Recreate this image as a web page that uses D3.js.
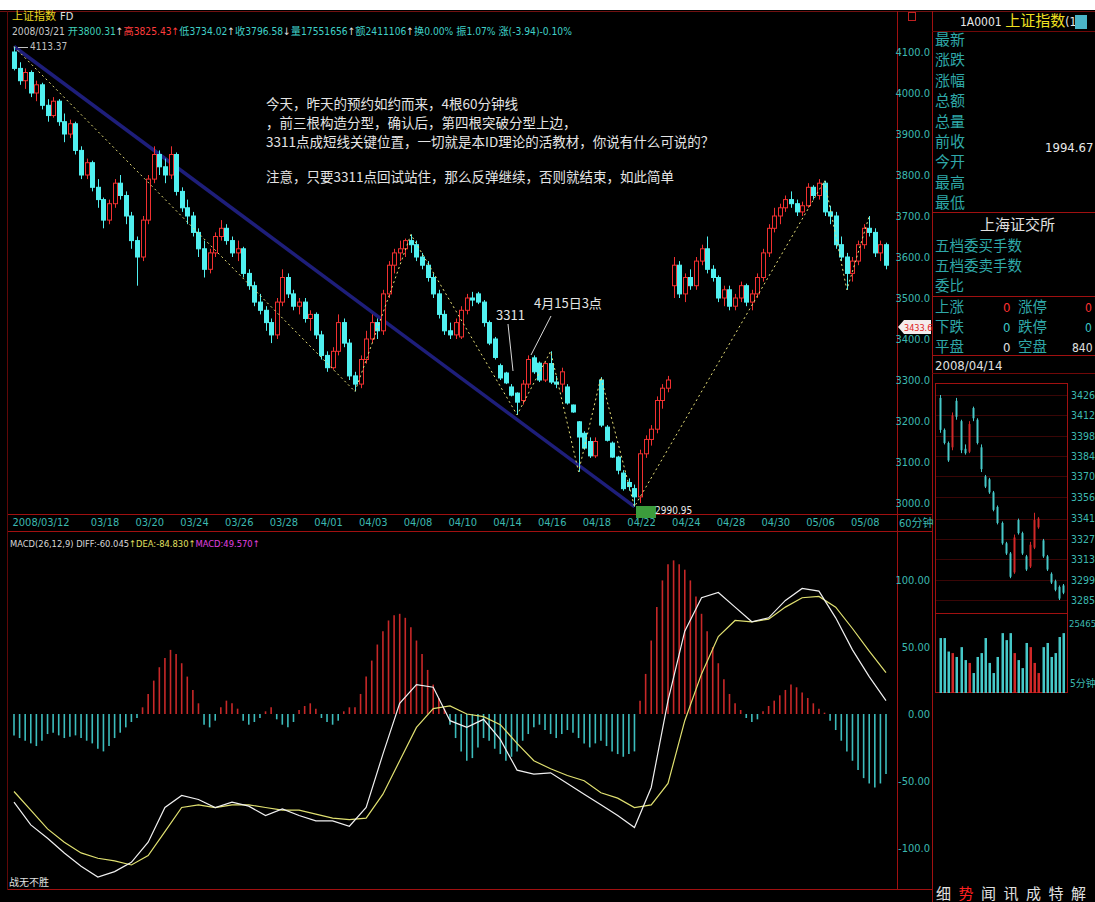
<!DOCTYPE html>
<html><head><meta charset="utf-8">
<script src="https://cdn.jsdelivr.net/npm/d3@7"></script>
<style>
html,body{margin:0;padding:0;background:#fff;}
svg{display:block;}
text{font-family:"Liberation Sans Narrow","DejaVu Sans Condensed","Noto Sans CJK SC",sans-serif;}
.cjk{font-family:"Noto Sans CJK SC","Noto Sans CJK JP",sans-serif;}
</style></head><body>
<svg id="c" width="1095" height="902"></svg>
<script>
// ---------------- DATA ----------------
const opens  = [4100,4060,4030,4050,4000,4020,3970,3945,3980,3930,3900,3925,3860,3800,3830,3770,3740,3690,3730,3780,3750,3700,3640,3600,3690,3790,3850,3820,3800,3850,3760,3720,3700,3660,3620,3570,3610,3650,3670,3640,3610,3620,3560,3530,3490,3470,3440,3410,3490,3550,3510,3480,3490,3450,3460,3410,3360,3330,3370,3440,3390,3310,3290,3350,3400,3440,3420,3510,3580,3610,3620,3640,3630,3600,3580,3550,3510,3460,3420,3410,3405,3470,3500,3510,3490,3440,3400,3335,3317,3283,3268,3250,3290,3354,3341,3300,3340,3295,3290,3283,3239,3198,3170,3150,3115,3300,3185,3146,3112,3073,3050,3035,3015,3120,3155,3180,3250,3280,3530,3580,3510,3550,3530,3590,3620,3570,3550,3500,3520,3480,3500,3530,3490,3510,3550,3610,3670,3700,3720,3740,3730,3710,3725,3770,3750,3780,3710,3700,3630,3600,3560,3590,3630,3670,3660,3610,3630];
const highs  = [4113,4075,4060,4055,4030,4025,3985,3990,3985,3950,3935,3930,3870,3840,3835,3790,3745,3740,3790,3800,3760,3710,3650,3700,3800,3870,3860,3840,3870,3855,3770,3740,3710,3670,3640,3620,3660,3690,3680,3650,3640,3625,3570,3540,3510,3480,3450,3500,3570,3560,3520,3500,3500,3470,3465,3420,3370,3380,3460,3450,3400,3320,3360,3420,3460,3450,3520,3590,3620,3640,3645,3655,3640,3610,3590,3560,3520,3470,3440,3450,3480,3510,3515,3515,3495,3445,3405,3340,3320,3290,3270,3300,3360,3360,3345,3345,3370,3310,3330,3290,3240,3200,3175,3160,3160,3307,3190,3150,3115,3080,3060,3045,3130,3165,3190,3260,3290,3310,3600,3590,3560,3570,3600,3630,3650,3580,3555,3530,3530,3510,3540,3535,3520,3560,3620,3680,3720,3730,3750,3760,3740,3735,3780,3775,3790,3786,3725,3710,3650,3610,3600,3640,3680,3700,3670,3640,3635];
const lows   = [4055,4020,4010,3990,3980,3960,3930,3940,3920,3880,3890,3850,3790,3790,3760,3720,3670,3680,3720,3740,3680,3620,3530,3590,3680,3780,3800,3780,3790,3750,3710,3680,3650,3600,3550,3560,3600,3640,3630,3600,3590,3550,3520,3480,3460,3420,3390,3400,3480,3500,3470,3460,3440,3420,3400,3350,3320,3325,3360,3380,3300,3272,3280,3340,3390,3400,3410,3500,3560,3590,3600,3610,3590,3570,3540,3500,3450,3410,3400,3400,3400,3460,3480,3485,3430,3385,3350,3300,3290,3260,3215,3240,3280,3315,3295,3295,3290,3280,3270,3240,3220,3076,3130,3110,3110,3185,3150,3110,3070,3030,3030,2991,3000,3110,3140,3170,3230,3270,3500,3500,3490,3520,3520,3580,3560,3540,3490,3480,3470,3470,3490,3480,3470,3500,3540,3600,3660,3680,3710,3720,3700,3700,3720,3740,3740,3700,3680,3620,3590,3520,3540,3580,3620,3650,3600,3590,3570];
const closes = [4060,4030,4050,4000,4020,3970,3945,3980,3930,3900,3925,3860,3800,3830,3770,3740,3690,3730,3780,3750,3700,3640,3600,3690,3790,3850,3820,3800,3850,3760,3720,3700,3660,3620,3570,3610,3650,3670,3640,3610,3620,3560,3530,3490,3470,3440,3410,3490,3550,3510,3480,3490,3450,3460,3410,3360,3330,3370,3440,3390,3310,3290,3350,3400,3440,3420,3510,3580,3610,3620,3640,3630,3600,3580,3550,3510,3460,3420,3410,3440,3470,3500,3495,3490,3440,3390,3355,3305,3293,3263,3246,3290,3350,3320,3300,3340,3295,3290,3320,3244,3222,3161,3134,3115,3150,3190,3153,3112,3080,3035,3040,3015,3120,3155,3180,3250,3280,3300,3580,3510,3550,3530,3590,3620,3570,3550,3500,3520,3480,3500,3530,3490,3510,3550,3610,3670,3700,3720,3740,3730,3710,3725,3770,3750,3780,3710,3700,3630,3600,3560,3590,3630,3670,3660,3610,3630,3580];

const dateIdx    = [0,14,22,30,38,46,54,62,70,78,86,94,102,110,118,126,134,142,150];
const dateLabels = ["2008/03/12","03/18","03/20","03/24","03/26","03/28","04/01","04/03","04/08","04/10","04/14","04/16","04/18","04/22","04/24","04/28","04/30","05/06","05/08"];
const priceTicks = [4100,4000,3900,3800,3700,3600,3500,3400,3300,3200,3100,3000];
const macdTicks  = [100,50,0,-50,-100];
const macdTickLabels = ["100.00","50.00","0.00","-50.00","-100.0"];

const zigIdx   = [0,61,71,90,96,101,105,111,145,149,153];
const zigPrice = [4113,3272,3655,3215,3370,3076,3307,2991,3786,3520,3700];
const trendIdx   = [0,111];
const trendPrice = [4113.37,2990.95];

const macdIdx = [0,3,6,9,12,15,18,21,24,27,30,33,36,39,42,45,48,51,54,57,60,63,66,69,72,75,78,81,84,87,90,93,96,99,102,105,108,111,114,117,120,123,126,129,132,135,138,141,144,147,150,153,156];
const diffVals = [-66,-83,-93,-104,-114,-122,-118,-111,-96,-70,-61,-64,-70,-66,-69,-76,-71,-76,-80,-80,-84,-70,-30,8,22,20,-5,-10,-4,-19,-42,-45,-44,-52,-60,-68,-76,-85,-55,10,62,87,91,80,69,72,85,94,92,72,48,28,10];
const deaVals  = [-58,-72,-86,-96,-104,-108,-110,-113,-106,-88,-70,-68,-70,-68,-68,-70,-72,-72,-75,-78,-79,-78,-60,-35,-10,4,6,0,-2,-8,-22,-35,-41,-46,-50,-59,-63,-70,-68,-52,-5,30,58,70,69,71,80,87,88,80,64,47,31];
const macdHist = [-16,-18,-20,-22,-24,-20,-15,-14,-16,-18,-17,-16,-18,-20,-22,-26,-28,-24,-18,-14,-10,-6,-3,
  5,15,25,35,42,48,45,38,28,18,8,
  -8,-10,-5,
  5,10,8,4,
  -5,-8,-6,-3,2,5,-4,-8,-10,-6,3,6,8,4,-3,-6,-8,-5,2,5,
  5,15,28,40,52,62,70,74,75,72,65,55,45,33,22,12,4,
  -8,-18,-28,-35,-33,-25,-18,-20,-26,-30,-35,-32,-28,
  -20,-15,-10,-8,-12,-15,-18,-15,-12,-14,-18,-22,-25,-22,-20,-24,-28,-30,-32,-30,-28,
  10,30,55,80,100,112,115,112,108,100,88,75,62,50,38,26,15,8,3,
  -3,-6,-4,2,6,10,14,
  18,22,20,16,12,8,4,1,
  -5,-12,-20,-28,-35,-42,-48,-52,-55,-52,-45];

const miniOpen  = [3424,3402,3393,3390,3422,3408,3389,3387,3417,3409,3390,3370,3368,3359,3349,3338,3324,3317,3304,3340,3331,3315,3308,3321,3335,3326,3315,3303,3298,3294,3295];
const miniHigh  = [3426,3403,3394,3414,3424,3409,3392,3408,3418,3410,3392,3371,3369,3360,3350,3339,3325,3318,3330,3341,3332,3316,3325,3345,3342,3327,3316,3304,3299,3295,3296];
const miniLow   = [3400,3392,3380,3388,3409,3386,3385,3386,3408,3392,3373,3362,3358,3346,3337,3323,3316,3300,3303,3330,3316,3305,3307,3320,3334,3314,3305,3296,3291,3285,3289];
const miniClose = [3402,3393,3381,3412,3411,3388,3386,3406,3410,3393,3375,3363,3359,3347,3338,3324,3317,3301,3328,3331,3317,3306,3323,3340,3341,3315,3306,3297,3292,3286,3290];
const miniVol   = [21200,21200,16000,15400,13900,17700,12700,11600,7700,13900,15400,21200,11600,7700,13900,23100,20400,23100,15400,12700,9600,19300,17700,11600,7700,17700,19300,13900,15400,21600,23100];
const miniTicks = [3426,3412,3398,3384,3370,3356,3341,3327,3313,3299,3285];

const headerParts = [["2008/03/21 ","#c8c8c8"],["开3800.31","#3fd0b8"],["↑","#e0e0e0"],["高3825.43","#ff3c3c"],["↑","#ff3c3c"],["低3734.02","#3fd0c8"],["↑","#e0e0e0"],["收3796.58","#3fd0c8"],["↓","#e0e0e0"],["量17551656","#3fd0c8"],["↑","#e0e0e0"],["额2411106","#3fd0c8"],["↑","#e0e0e0"],["换0.00% ","#3fd0c8"],["振1.07% ","#3fd0c8"],["涨(-3.94)-0.10%","#3fd0c8"]];
const macdHeader = [["MACD(26,12,9) DIFF:-60.045","#d8d8d8"],["↑","#e0e060"],["DEA:-84.830","#e0e060"],["↑","#e0e060"],["MACD:49.570","#e040e0"],["↑","#e040e0"]];
const noteLines = ["今天，昨天的预约如约而来，4根60分钟线","，前三根构造分型，确认后，第四根突破分型上边，","3311点成短线关键位置，一切就是本ID理论的活教材，你说有什么可说的？","注意，只要3311点回试站住，那么反弹继续，否则就结束，如此简单"];
const quoteLabels = ["最新","涨跌","涨幅","总额","总量","前收","今开","最高","最低"];
const tabs = ["细","势","闻","讯","成","特","解"];

// ---------------- DRAW ----------------
const svg = d3.select("#c");
const RED = "#a01010";
svg.append("rect").attr("x",0).attr("y",10).attr("width",1095).attr("height",892).attr("fill","#000");

const x  = d3.scaleLinear().domain([0,156]).range([14,886]);
const y  = d3.scaleLinear().domain([3000,4100]).range([503,52]);
const ym = d3.scaleLinear().domain([-100,100]).range([847.6,580.4]);

function hline(x1,x2,yy,c){svg.append("line").attr("x1",x1).attr("x2",x2).attr("y1",yy).attr("y2",yy).attr("stroke",c||RED).attr("stroke-width",1);}
function vline(xx,y1,y2,c){svg.append("line").attr("x1",xx).attr("x2",xx).attr("y1",y1).attr("y2",y2).attr("stroke",c||RED).attr("stroke-width",1);}

// frame
hline(0,1095,11.5,"#701010");
vline(7.5,11,890,"#600808");
vline(897.5,11,890);
vline(932.5,11,902);
hline(8,932,514.5);
hline(8,932,531.5);
hline(8,932,889.5);
hline(932,1095,31.5,"#700808");
hline(932,1095,212.5);
hline(932,1095,296.5);
hline(932,1095,355.5);
hline(932,1095,373.5,"#700808");
svg.append("rect").attr("x",908.5).attr("y",12.5).attr("width",7).attr("height",8).attr("fill","none").attr("stroke","#c02020");

// trend line (blue)
const ln = d3.line().x(d=>x(d[0])).y(d=>y(d[1]));
svg.append("path").attr("d",ln(d3.zip(trendIdx,trendPrice))).attr("stroke","#1e1e7a").attr("stroke-width",3.5).attr("fill","none");

// candles
const cg = svg.append("g");
d3.range(closes.length).forEach(i=>{
  const up = closes[i] >= opens[i];
  const col = up ? "#f03030" : "#50f0f0";
  const cx = Math.round(x(i))+0.5;
  cg.append("line").attr("x1",cx).attr("x2",cx).attr("y1",y(highs[i])).attr("y2",y(lows[i])).attr("stroke",col);
  const t = y(Math.max(opens[i],closes[i])), b = y(Math.min(opens[i],closes[i]));
  cg.append("rect").attr("x",cx-2).attr("y",t).attr("width",4).attr("height",Math.max(1,b-t))
    .attr("fill",up?"#000":col).attr("stroke",col).attr("stroke-width",1);
});

// zigzag dashed
svg.append("path").attr("d",ln(d3.zip(zigIdx,zigPrice))).attr("stroke","#e8e07a").attr("stroke-width",1).attr("stroke-dasharray","2,3").attr("fill","none");

// price axis
const pa = svg.append("g").attr("transform","translate(930,0)")
  .call(d3.axisLeft(y).tickValues(priceTicks).tickFormat(d=>d.toFixed(1)).tickSize(0).tickPadding(0));
pa.select(".domain").remove();
pa.selectAll("text").attr("fill","#3cb8b0").attr("font-size",11);

// current price tag
svg.append("path").attr("d","M898,327 L904,320 L931,320 L931,334 L904,334 Z").attr("fill","#f4ecec");
svg.append("text").attr("x",904).attr("y",331).attr("fill","#e02020").attr("font-size",9).text("3433.6");

// date axis
const da = svg.append("g").attr("transform","translate(-2,518)")
  .call(d3.axisBottom(x).tickValues(dateIdx).tickFormat((d,i)=>dateLabels[i]).tickSize(0).tickPadding(0));
da.select(".domain").remove();
da.selectAll("text").attr("text-anchor","start").attr("fill","#3cb8b0").attr("font-size",11);
svg.append("text").attr("x",899).attr("y",527).attr("fill","#3cb8b0").attr("font-size",11).text("60分钟");

// title + header
const tt = svg.append("text").attr("x",12).attr("y",20).attr("font-size",11);
tt.append("tspan").attr("fill","#e8d820").text("上证指数");
tt.append("tspan").attr("fill","#e0e0e0").attr("dx",4).text("FD");
const ht = svg.append("text").attr("x",12).attr("y",35).attr("font-size",10.2);
headerParts.forEach(p=>ht.append("tspan").attr("fill",p[1]).text(p[0]));
svg.append("line").attr("x1",18).attr("x2",28).attr("y1",47.5).attr("y2",47.5).attr("stroke","#c0c0c0");
svg.append("text").attr("x",30).attr("y",50).attr("fill","#c0c0c0").attr("font-size",10).text("4113.37");

// notes
noteLines.forEach((s,i)=>{
  svg.append("text").attr("class","cjk").attr("x",266).attr("y",[109,128,147,182][i]).attr("fill","#e4e4e4").attr("font-size",13.5).text(s);
});
svg.append("text").attr("class","cjk").attr("x",496).attr("y",320).attr("fill","#e4e4e4").attr("font-size",13).text("3311");
svg.append("line").attr("x1",508).attr("y1",324).attr("x2",513).attr("y2",371).attr("stroke","#d8d8d8");
svg.append("text").attr("class","cjk").attr("x",534).attr("y",308).attr("fill","#e4e4e4").attr("font-size",13).text("4月15日3点");
svg.append("line").attr("x1",551).attr("y1",316).attr("x2",531).attr("y2",355).attr("stroke","#d8d8d8");

// low label
svg.append("rect").attr("x",636).attr("y",506).attr("width",20).attr("height",12).attr("fill","#3c9c3c");
svg.append("text").attr("x",655).attr("y",514).attr("fill","#e8e8e8").attr("font-size",10).text("2990.95");

// MACD
const mh = svg.append("g");
d3.range(macdHist.length).forEach(i=>{
  const v = macdHist[i];
  mh.append("line").attr("x1",x(i)).attr("x2",x(i)).attr("y1",ym(0)).attr("y2",ym(v))
    .attr("stroke",v>=0?"#c82828":"#3cbcbc").attr("stroke-width",1.6);
});
const lm = d3.line().x(d=>x(d[0])).y(d=>ym(d[1]));
svg.append("path").attr("d",lm(d3.zip(macdIdx,deaVals))).attr("stroke","#e0e070").attr("stroke-width",1.2).attr("fill","none");
svg.append("path").attr("d",lm(d3.zip(macdIdx,diffVals))).attr("stroke","#f0f0f0").attr("stroke-width",1.2).attr("fill","none");
const ma = svg.append("g").attr("transform","translate(930,0)")
  .call(d3.axisLeft(ym).tickValues(macdTicks).tickFormat((d,i)=>macdTickLabels[i]).tickSize(0).tickPadding(0));
ma.select(".domain").remove();
ma.selectAll("text").attr("fill","#3cb8b0").attr("font-size",11);
const mt = svg.append("text").attr("x",10).attr("y",547).attr("font-size",9.3);
macdHeader.forEach(p=>mt.append("tspan").attr("fill",p[1]).text(p[0]));
svg.append("text").attr("class","cjk").attr("x",9).attr("y",886).attr("fill","#e0e0e0").attr("font-size",10).text("战无不胜");

// ---------- right panel ----------
const rt = svg.append("text").attr("x",960).attr("y",26);
rt.append("tspan").attr("fill","#e8e8e8").attr("font-size",12).text("1A0001 ");
rt.append("tspan").attr("class","cjk").attr("fill","#f0e020").attr("font-size",15).text("上证指数");
rt.append("tspan").attr("fill","#e8e8e8").attr("font-size",12).text("(1");
svg.append("rect").attr("x",1075).attr("y",15).attr("width",12).attr("height",14).attr("fill","#4ab4c8");

quoteLabels.forEach((s,i)=>{
  svg.append("text").attr("class","cjk").attr("x",935).attr("y",45+i*20.4).attr("fill","#2fa8a8").attr("font-size",15).text(s);
});
svg.append("text").attr("x",1045).attr("y",152).attr("fill","#e8e8e8").attr("font-size",13).text("1994.67");
svg.append("text").attr("class","cjk").attr("x",980).attr("y",230).attr("fill","#e0e0e0").attr("font-size",15).text("上海证交所");
["五档委买手数","五档委卖手数","委比"].forEach((s,i)=>{
  svg.append("text").attr("class","cjk").attr("x",935).attr("y",[251,271,291][i]).attr("fill","#2fa8a8").attr("font-size",14.5).text(s);
});
const stat = [["上涨","0","#ff3030","涨停","0","#ff3030"],["下跌","0","#3cc8c8","跌停","0","#3cc8c8"],["平盘","0","#e0e0e0","空盘","840","#e0e0e0"]];
stat.forEach((r,i)=>{
  const yy = [312,332,352][i];
  svg.append("text").attr("class","cjk").attr("x",935).attr("y",yy).attr("fill","#2fa8a8").attr("font-size",14.5).text(r[0]);
  svg.append("text").attr("x",1003).attr("y",yy).attr("fill",r[2]).attr("font-size",13).text(r[1]);
  svg.append("text").attr("class","cjk").attr("x",1018).attr("y",yy).attr("fill","#2fa8a8").attr("font-size",14.5).text(r[3]);
  svg.append("text").attr("x",r[4].length>1?1072:1085).attr("y",yy).attr("fill",r[5]).attr("font-size",12).text(r[4]);
});
svg.append("text").attr("x",935).attr("y",370).attr("fill","#e0e0e0").attr("font-size",13).text("2008/04/14");

// mini chart
const mx = d3.scaleLinear().domain([0,30]).range([940,1063]);
const my = d3.scaleLinear().domain([3285,3426]).range([600,395]);
const mv = d3.scaleLinear().domain([0,25465]).range([693,627]);
miniTicks.forEach(t=>hline(935,1068,Math.round(my(t))+0.5,"#3a0606"));
svg.append("rect").attr("x",935.5).attr("y",383.5).attr("width",132).attr("height",309).attr("fill","none").attr("stroke",RED);
hline(935,1068,613.5);
const mya = svg.append("g").attr("transform","translate(1071,0)")
  .call(d3.axisRight(my).tickValues(miniTicks).tickSize(0).tickPadding(0).tickFormat(d3.format("d")));
mya.select(".domain").remove();
mya.selectAll("text").attr("fill","#3cb8b0").attr("font-size",10.5);
svg.append("text").attr("x",1069).attr("y",627).attr("fill","#3cb8b0").attr("font-size",9.5).text("25465");
svg.append("text").attr("x",1070).attr("y",687).attr("fill","#3cb8b0").attr("font-size",10).text("5分钟");
d3.range(miniClose.length).forEach(i=>{
  const up = miniClose[i] >= miniOpen[i];
  const col = up ? "#d02828" : "#46c8c8";
  const cx = Math.round(mx(i))+0.5;
  svg.append("line").attr("x1",cx).attr("x2",cx).attr("y1",my(miniHigh[i])).attr("y2",my(miniLow[i])).attr("stroke",col);
  const t = my(Math.max(miniOpen[i],miniClose[i])), b = my(Math.min(miniOpen[i],miniClose[i]));
  svg.append("rect").attr("x",cx-1).attr("y",t).attr("width",2).attr("height",Math.max(1,b-t)).attr("fill",col);
  svg.append("rect").attr("x",cx-1).attr("y",mv(miniVol[i])).attr("width",2.5).attr("height",693-mv(miniVol[i])).attr("fill",col);
});

// bottom tabs
tabs.forEach((s,i)=>{
  svg.append("text").attr("class","cjk").attr("x",936+i*22.5).attr("y",899).attr("fill",i===1?"#ff2020":"#e0e0e0").attr("font-size",15).text(s);
});
</script>
</body></html>
